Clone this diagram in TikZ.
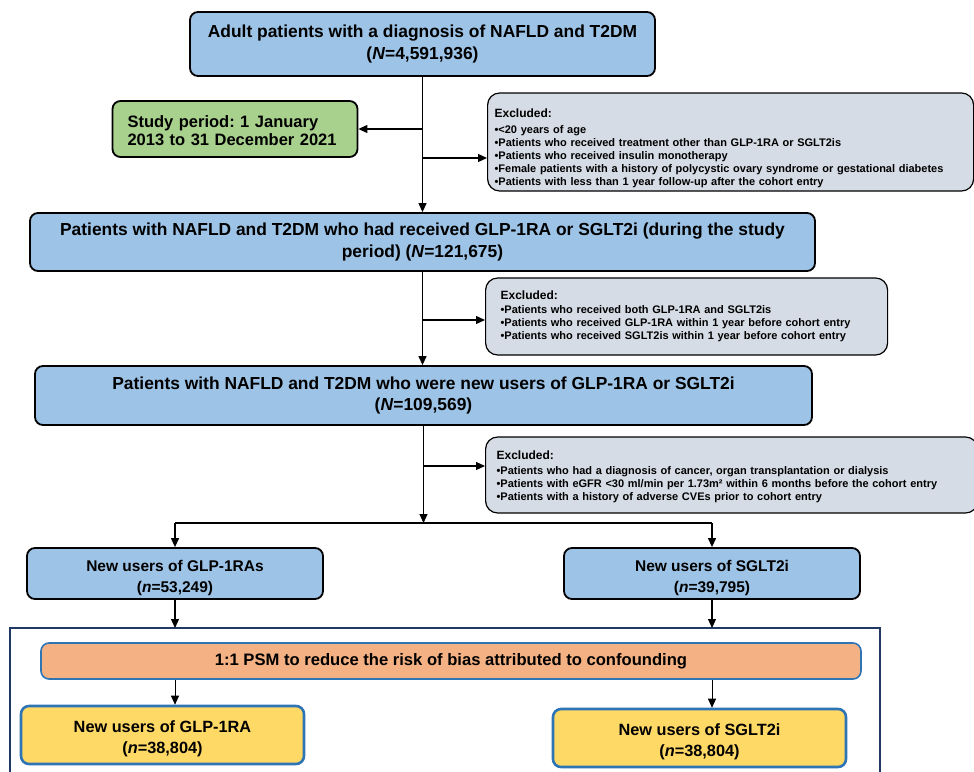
\documentclass[tikz,border=0pt]{standalone}
\usepackage{fontspec}
\setmainfont{Liberation Sans}
\usetikzlibrary{arrows.meta}
\definecolor{boxblue}{HTML}{9DC3E6}
\definecolor{boxgreen}{HTML}{A9D18E}
\definecolor{boxgray}{HTML}{D6DCE5}
\definecolor{boxorange}{HTML}{F4B183}
\definecolor{boxyellow}{HTML}{FFD966}
\definecolor{edgeblue}{HTML}{2E75B6}
\definecolor{framenavy}{HTML}{1F3864}
\newcommand{\padtop}[1]{\rule{0pt}{#1}}

\begin{document}
\frenchspacing
\begin{tikzpicture}[x=1pt,y=-1pt,
    box/.style={draw, rounded corners=8pt, line width=1.8pt, inner sep=0pt, align=center,
      font=\fontsize{17.4}{21.5}\selectfont\bfseries},
    bluebox/.style={box, fill=boxblue},
    greenbox/.style={box, fill=boxgreen},
    graybox/.style={box, fill=boxgray, line width=1.2pt, rounded corners=12pt, align=left,
      font=\fontsize{11}{13}\selectfont\bfseries},
    psmbox/.style={box, fill=boxorange, draw=edgeblue, line width=1.6pt, font=\fontsize{16.6}{20}\selectfont\bfseries},
    yellowbox/.style={box, fill=boxyellow, draw=edgeblue, line width=2.6pt, font=\fontsize{16.3}{21}\selectfont\bfseries},
    arr/.style={-{Triangle[length=9pt,width=8pt]}, line width=1.2pt}]
\useasboundingbox (0,0) rectangle (974,771);

% cohort selection
\node[bluebox, minimum width=465pt, minimum height=64pt] (adult) at (422.5,44)
  {Adult patients with a diagnosis of NAFLD and T2DM\\(\textit{N}=4,591,936)};
\node[greenbox, minimum width=245pt, minimum height=56pt, align=left, inner xsep=15pt,
  text width=215pt, font=\fontsize{16.5}{18.5}\selectfont\bfseries] (period) at (235,129)
  {\padtop{15pt}Study period: 1 January\\2013 to 31 December 2021};
\node[graybox, anchor=west, minimum height=98pt, inner xsep=7pt, text width=472pt] (excl1) at (487,142)
  {\padtop{21pt}{\fontsize{12}{15}\selectfont Excluded:}\\[3pt]
   \textbullet{}\textless{}20 years of age\\
   \textbullet{}Patients who received treatment other than GLP-1RA or SGLT2is\\
   \textbullet{}Patients who received insulin monotherapy\\
   \textbullet{}Female patients with a history of polycystic ovary syndrome or gestational diabetes\\
   \textbullet{}Patients with less than 1 year follow-up after the cohort entry};
\node[bluebox, minimum width=785pt, minimum height=58pt] (recv) at (422.5,242)
  {Patients with NAFLD and T2DM who had received GLP-1RA or SGLT2i (during the study\\
   period) (\textit{N}=121,675)};
\node[graybox, anchor=west, minimum height=77pt, inner xsep=15pt, text width=372pt] (excl2) at (485,316.5)
  {{\fontsize{12}{15}\selectfont Excluded:}\\[1pt]
   \textbullet{}Patients who received both GLP-1RA and SGLT2is\\
   \textbullet{}Patients who received GLP-1RA within 1 year before cohort entry\\
   \textbullet{}Patients who received SGLT2is within 1 year before cohort entry};
\node[bluebox, minimum width=777pt, minimum height=59pt] (newu) at (423.5,395.5)
  {Patients with NAFLD and T2DM who were new users of GLP-1RA or SGLT2i\\(\textit{N}=109,569)};
\node[graybox, anchor=west, minimum height=76pt, inner xsep=11pt, text width=470pt] (excl3) at (485,475)
  {\padtop{12pt}{\fontsize{12}{15}\selectfont Excluded:}\\[1.5pt]
   \textbullet{}Patients who had a diagnosis of cancer, organ transplantation or dialysis\\
   \textbullet{}Patients with eGFR \textless{}30 ml/min per 1.73m² within 6 months before the cohort entry\\
   \textbullet{}Patients with a history of adverse CVEs prior to cohort entry};

% new users
\node[bluebox, minimum width=296pt, minimum height=51pt, font=\fontsize{15.5}{21}\selectfont\bfseries] (glp) at (175,573.5)
  {\padtop{21pt}New users of GLP-1RAs\\(\textit{n}=53,249)};
\node[bluebox, minimum width=296pt, minimum height=51pt, font=\fontsize{15.5}{21}\selectfont\bfseries] (sglt) at (712,573.5)
  {\padtop{21pt}New users of SGLT2i\\(\textit{n}=39,795)};

% matched cohort
\coordinate (fl) at (10,628);
\coordinate (fr) at (880,628);
\draw[framenavy, line width=2.8pt] (10,775) -- (fl) -- (fr) -- (880,775);
\node[psmbox, minimum width=820pt, minimum height=36pt] (psm) at (451,661)
  {1:1 PSM to reduce the risk of bias attributed to confounding};
\node[yellowbox, minimum width=283pt, minimum height=58pt] (glpm) at (162.5,735)
  {\padtop{19pt}New users of GLP-1RA\\(\textit{n}=38,804)};
\node[yellowbox, minimum width=293pt, minimum height=58pt] (sgltm) at (699.5,738)
  {\padtop{19pt}New users of SGLT2i\\(\textit{n}=38,804)};

% connectors
\draw[arr] (adult.south) -- (adult.south |- recv.north);
\draw[arr] (adult.south |- period.east) -- (period.east);
\coordinate (t1) at (adult.south |- 0,158);
\draw[arr] (t1) -- (t1 -| excl1.west);
\draw[arr] (recv.south) -- (recv.south |- newu.north);
\coordinate (t2) at (recv.south |- 0,320);
\draw[arr] (t2) -- (t2 -| excl2.west);
\coordinate (t3) at (newu.south |- 0,466);
\draw[arr] (t3) -- (t3 -| excl3.west);
\coordinate (split) at (newu.south |- 0,523);
\draw[arr] (newu.south) -- (split);
\draw[line width=1.8pt] (glp.north |- split) -- (sglt.north |- split);
\draw[arr] (glp.north |- split) -- (glp.north);
\draw[arr] (sglt.north |- split) -- (sglt.north);
\draw[arr] (glp.south) -- (glp.south |- fl);
\draw[arr] (sglt.south) -- (sglt.south |- fr);
\draw[arr, line width=0.9pt] (psm.south -| glp.south) -- (glpm.north -| glp.south);
\draw[arr, line width=0.9pt] (psm.south -| sglt.south) -- (sgltm.north -| sglt.south);
\end{tikzpicture}
\end{document}
